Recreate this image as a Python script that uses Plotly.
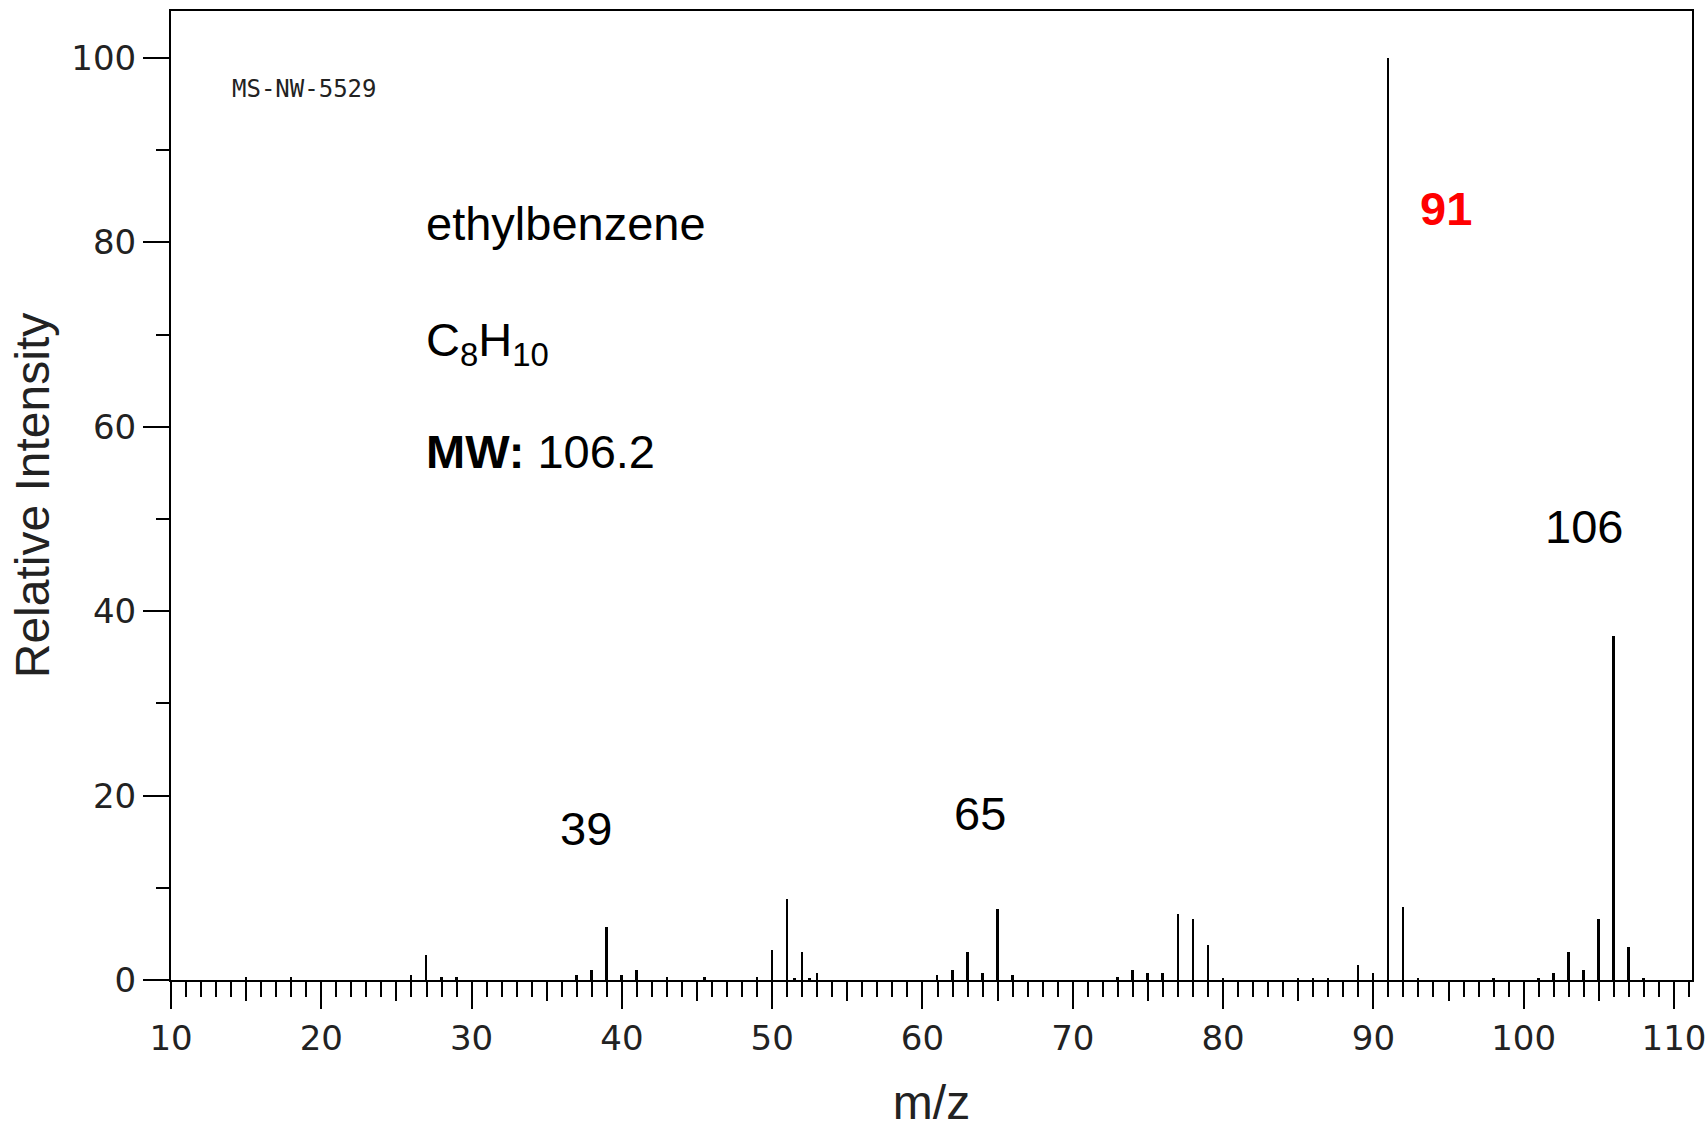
import plotly.graph_objects as go

# ---- data ----
mz = [15, 18, 26, 27, 28, 29, 37, 38, 39, 40, 41, 43, 45.5, 49, 50, 51, 51.5, 52, 52.5, 53,
      61, 62, 63, 64, 65, 66, 73, 74, 75, 76, 77, 78, 79, 80, 85, 86, 87, 89, 90,
      91, 92, 93, 98, 101, 102, 103, 104, 105, 106, 107, 108]
intensity = [0.3, 0.3, 0.55, 2.7, 0.3, 0.3, 0.55, 1.1, 5.7, 0.55, 1.1, 0.3, 0.3, 0.3, 3.25, 8.75, 0.25, 3.0, 0.25, 0.8,
             0.55, 1.1, 3.0, 0.8, 7.66, 0.55, 0.3, 1.1, 0.8, 0.8, 7.12, 6.58, 3.8, 0.25, 0.25, 0.25, 0.25, 1.63, 0.8,
             100.0, 7.88, 0.25, 0.25, 0.25, 0.8, 3.0, 1.08, 6.58, 37.3, 3.54, 0.25]

x_ticks = [10, 20, 30, 40, 50, 60, 70, 80, 90, 100, 110]
y_ticks = [0, 20, 40, 60, 80, 100]

peak_labels = ["39", "65", "106"]
peak_label_x = [37.6, 63.8, 104.0]
peak_label_y = [16.4, 18.1, 49.2]
base_peak_label = "91"
base_peak_pos = (94.8, 83.7)

compound = "ethylbenzene"
formula = "C<sub>8</sub>H<sub>10</sub>"
mw_text = "<b>MW:</b> 106.2"
spectrum_id = "MS-NW-5529"

x_range = [10, 111.2]
y_range = [0, 105.1]

tick_font = dict(family="DejaVu Sans", size=34, color="#222222")
title_font = dict(family="Liberation Sans, Arial", size=48, color="#222222")
ann_font = dict(family="Arial, Liberation Sans", size=47, color="black")

fig = go.Figure()
fig.add_trace(go.Bar(x=mz, y=intensity, width=0.13,
                     marker=dict(color="black", line=dict(width=0)),
                     showlegend=False, hoverinfo="x+y"))

fig.update_layout(
    width=1706, height=1129,
    margin=dict(l=171, r=14, t=11, b=149),
    paper_bgcolor="white", plot_bgcolor="white",
    bargap=0,
    xaxis=dict(range=x_range, tickmode="array", tickvals=x_ticks,
               ticks="outside", ticklen=27, tickwidth=2, tickcolor="black",
               minor=dict(dtick=1, tick0=10, ticklen=15, tickwidth=2, tickcolor="black", ticks="outside", showgrid=False),
               showline=True, linewidth=2, linecolor="black", mirror=True,
               showgrid=False, zeroline=False, tickfont=tick_font,
               ticklabeloverflow="allow", automargin=False,
               title=dict(text="m/z", font=title_font, standoff=35)),
    xaxis2=dict(range=x_range, overlaying="x", anchor="y", side="bottom",
                tick0=15, dtick=10, ticks="outside", ticklen=20, tickwidth=2, tickcolor="black",
                showticklabels=False, showline=False, showgrid=False, zeroline=False, automargin=False),
    yaxis=dict(range=y_range, tickmode="array", tickvals=y_ticks,
               ticks="outside", ticklen=26, tickwidth=2, tickcolor="black",
               minor=dict(dtick=10, tick0=0, ticklen=13, tickwidth=2, tickcolor="black", ticks="outside", showgrid=False),
               showline=True, linewidth=2, linecolor="black", mirror=True,
               showgrid=False, zeroline=False, tickfont=tick_font, automargin=True,
               title=dict(text="Relative Intensity", font=title_font, standoff=6)),
)

# invisible trace on xaxis2 so its medium ticks render
fig.add_trace(go.Scatter(x=[x_range[0]], y=[0], xaxis="x2", mode="markers",
                         marker=dict(opacity=0), showlegend=False, hoverinfo="skip"))

for t, x, y in zip(peak_labels, peak_label_x, peak_label_y):
    fig.add_annotation(x=x, y=y, text=t, showarrow=False, font=ann_font,
                       xanchor="center", yanchor="middle")
fig.add_annotation(x=base_peak_pos[0], y=base_peak_pos[1], text="<b>" + base_peak_label + "</b>",
                   showarrow=False, font=dict(family="Arial, Liberation Sans", size=47, color="#ff0000"),
                   xanchor="center", yanchor="middle")
fig.add_annotation(x=26.8, y=82.1, text=compound, showarrow=False, font=ann_font,
                   xanchor="left", yanchor="middle")
fig.add_annotation(x=26.8, y=69.1, text=formula, showarrow=False, font=ann_font,
                   xanchor="left", yanchor="middle")
fig.add_annotation(x=26.8, y=57.3, text=mw_text, showarrow=False, font=ann_font,
                   xanchor="left", yanchor="middle")
fig.add_annotation(x=13.9, y=96.6, text=spectrum_id, showarrow=False,
                   font=dict(family="DejaVu Sans Mono", size=24, color="#222222"),
                   xanchor="left", yanchor="middle")

fig.write_html("out.html")
